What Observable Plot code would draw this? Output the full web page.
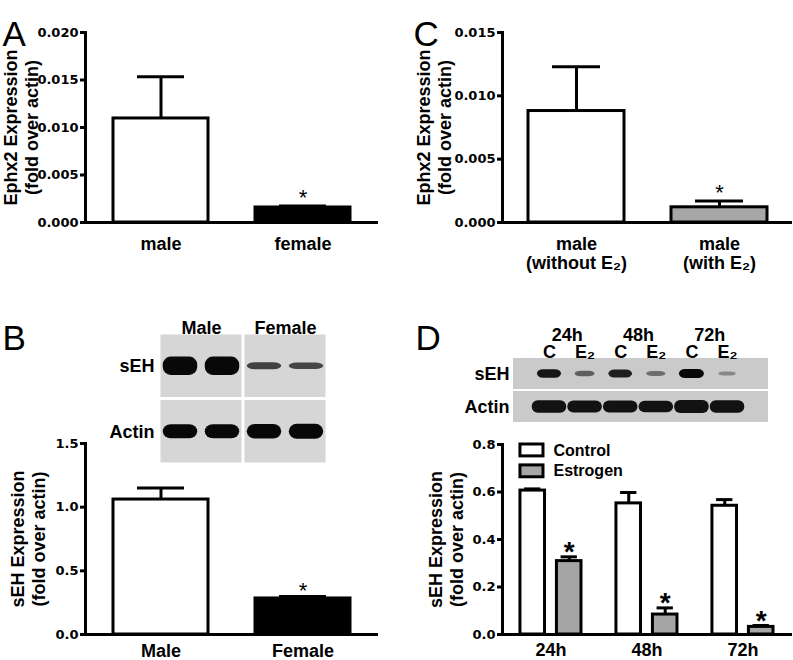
<!DOCTYPE html>
<html><head><meta charset="utf-8">
<script src="https://cdn.jsdelivr.net/npm/d3@7"></script>
<script src="https://cdn.jsdelivr.net/npm/@observablehq/plot@0.6"></script>
<style>
body{margin:0;background:#fff}
#fig{position:relative;width:793px;height:660px;background:#fff;overflow:hidden}
#fig svg{position:absolute}
</style></head><body><div id="fig"></div>
<script>
// ---------- Panel A ----------
const aCategories = ["male", "female"];
const aValues = [0.01095, 0.00158];
const aErrors = [0.0044, 0.00015];
const aTicks = [0, 0.005, 0.010, 0.015, 0.020];
// ---------- Panel C ----------
const cCategories = ["male\n(without E₂)", "male\n(with E₂)"];
const cValues = [0.0088, 0.0012];
const cErrors = [0.0035, 0.0005];
const cTicks = [0, 0.005, 0.010, 0.015];
// ---------- Panel B ----------
const bCategories = ["Male", "Female"];
const bValues = [1.06, 0.283];
const bErrors = [0.09, 0.015];
const bTicks = [0, 0.5, 1.0, 1.5];
const bBlotGroups = ["Male", "Female"];
const bBlotRows = ["sEH", "Actin"];
const bSehDensity = [1.0, 1.0, 0.28, 0.25];
const bActinDensity = [0.78, 0.78, 0.8, 0.82];
// ---------- Panel D ----------
const dTimes = ["24h", "48h", "72h"];
const dSeries = ["Control", "Estrogen"];
const dControl = [0.606, 0.552, 0.542];
const dControlErr = [0.007, 0.046, 0.026];
const dEstrogen = [0.309, 0.084, 0.032];
const dEstrogenErr = [0.018, 0.028, 0.006];
const dTicks = [0, 0.2, 0.4, 0.6, 0.8];
const dLaneLabels = ["C", "E₂", "C", "E₂", "C", "E₂"];
const dBlotRows = ["sEH", "Actin"];
const dSehDensity = [0.9, 0.4, 0.85, 0.3, 1.0, 0.12];
const dActinDensity = [0.95, 0.9, 0.9, 0.88, 1.0, 0.95];

const LAB = "'Liberation Sans', Arial, Helvetica, sans-serif";
const TICKF = "'DejaVu Sans', sans-serif";
const GRAY = "#a6a6a6";
const fig = document.getElementById("fig");
function place(svg, left, top) {
  svg.style.left = left + "px"; svg.style.top = top + "px";
  d3.select(svg).selectAll('g[aria-label="y-axis tick"]').attr("stroke-width", 3);
  fig.appendChild(svg); return svg;
}
const baseStyle = {background: "transparent", overflow: "visible", fontFamily: LAB, color: "black"};

function addBlotFilters(svg, id, sd) {
  const s = d3.select(svg);
  const defs = s.insert("defs", ":first-child");
  defs.append("filter").attr("id", "blur" + id)
    .attr("x", "-10%").attr("y", "-30%").attr("width", "120%").attr("height", "160%")
    .append("feGaussianBlur").attr("stdDeviation", sd);
  const n = defs.append("filter").attr("id", "noise" + id).attr("x", "0").attr("y", "0").attr("width", "100%").attr("height", "100%");
  n.append("feTurbulence").attr("type", "fractalNoise").attr("baseFrequency", "0.45").attr("numOctaves", 2).attr("seed", 4).attr("result", "n");
  n.append("feColorMatrix").attr("in", "n").attr("type", "matrix")
    .attr("values", "0 0 0 0 0  0 0 0 0 0  0 0 0 0 0  0 0 0 0.5 -0.2").attr("result", "a");
  n.append("feComposite").attr("in", "a").attr("in2", "SourceGraphic").attr("operator", "in").attr("result", "b");
  const m = n.append("feMerge");
  m.append("feMergeNode").attr("in", "SourceGraphic");
  m.append("feMergeNode").attr("in", "b");
  s.selectAll('g[aria-label="bands"]').attr("filter", `url(#blur${id})`);
  s.selectAll('g[aria-label="membrane"]').attr("filter", `url(#noise${id})`);
}

function barPanel(o) {
  const data = o.cats.map((c, i) => ({cat: c, v: o.vals[i], e: o.errs[i], fill: o.fills[i]}));
  return Plot.plot({
    width: o.width, height: o.height,
    marginLeft: o.ml, marginRight: o.mr, marginTop: o.mt, marginBottom: o.mb,
    style: baseStyle,
    x: {domain: o.cats, paddingInner: 0.33, paddingOuter: o.po, axis: null},
    y: {domain: [0, o.ticks[o.ticks.length - 1]]},
    marks: [
      Plot.ruleX(data, {x: "cat", y1: "v", y2: d => d.v + d.e, strokeWidth: 3}),
      Plot.tickY(data, {x: "cat", y: d => d.v + d.e, strokeWidth: 3, inset: 24}),
      Plot.barY(data, {x: "cat", y: "v", fill: d => d.fill, stroke: "black", strokeWidth: 3}),
      Plot.text([data[1]], {x: "cat", y: d => d.v + d.e, text: () => "*", fontSize: 22, fontWeight: "normal", dy: o.starDy}),
      Plot.ruleY([0], {strokeWidth: 3}),
      Plot.frame({anchor: "left", strokeWidth: 3}),
      Plot.axisY({ticks: o.ticks, tickFormat: o.fmt, tickSize: 5, tickPadding: 2, strokeWidth: 3,
        fontFamily: TICKF, fontWeight: "bold", fontSize: 13, label: null}),
      Plot.text(data, {x: "cat", text: "cat", frameAnchor: "bottom", lineAnchor: "top", dy: o.labelDy,
        fontSize: 18, fontWeight: "bold", lineHeight: 1.1}),
      Plot.text([o.title], {frameAnchor: "left", textAnchor: "middle", lineAnchor: "middle", rotate: -90, dx: o.titleDx,
        fontSize: 18, fontWeight: "bold", lineHeight: 1.2}),
      Plot.text([o.letter], {frameAnchor: "top-left", textAnchor: "start", lineAnchor: "bottom", dx: o.letterDx, dy: o.letterDy,
        fontSize: 35, fontWeight: "normal"})
    ]
  });
}

// Panel A
place(barPanel({cats: aCategories, vals: aValues, errs: aErrors, ticks: aTicks, fmt: ".3f", fills: ["white", "black"],
  width: 390, height: 290, ml: 85, mr: 12, mt: 32, mb: 68, po: 0.19, starDy: -8, labelDy: 13,
  title: "Ephx2 Expression\n(fold over actin)", titleDx: -65, letter: "A", letterDx: -83, letterDy: 13}), 0, 0);

// Panel C
place(barPanel({cats: cCategories, vals: cValues, errs: cErrors, ticks: cTicks, fmt: ".3f", fills: ["white", GRAY],
  width: 403, height: 290, ml: 112, mr: 1, mt: 32, mb: 68, po: 0.175, starDy: -8, labelDy: 13,
  title: "Ephx2 Expression\n(fold over actin)", titleDx: -69, letter: "C", letterDx: -89, letterDy: 13}), 390, 0);

// Panel B
place(barPanel({cats: bCategories, vals: bValues, errs: bErrors, ticks: bTicks, fmt: ".1f", fills: ["white", "black"],
  width: 390, height: 360, ml: 85, mr: 12, mt: 143, mb: 26, po: 0.19, starDy: -6, labelDy: 8.5,
  title: "sEH Expression\n(fold over actin)", titleDx: -58, letter: "B", letterDx: -83, letterDy: -94}), 0, 300);

// Panel B blot
{
  const bg = [];
  bBlotGroups.forEach((g, gi) => bBlotRows.forEach((r, ri) => bg.push({gi, ri})));
  const bands = [
    ...bSehDensity.map((d, i) => ({lane: i, row: 0, d, th: 0.04 + 0.24 * d})),
    ...bActinDensity.map((d, i) => ({lane: i, row: 1, d, th: 0.03 + 0.24 * d}))
  ];
  const shade = d3.interpolateRgb("#d5d5d5", "#080808");
  const svg = Plot.plot({
    width: 240, height: 170, marginLeft: 59, marginRight: 13, marginTop: 33, marginBottom: 6,
    style: baseStyle,
    x: {domain: [0, 4], axis: null}, y: {domain: [0, 2], reverse: true, axis: null},
    marks: [
      Plot.rect(bg, {x1: d => 2 * d.gi, x2: d => 2 * d.gi + 2, y1: d => d.ri, y2: d => d.ri + 1, fill: "#d6d6d6", inset: 1.5, ariaLabel: "membrane"}),
      Plot.rect(bands, {x1: d => d.lane + 0.09, x2: d => d.lane + 0.91,
        y1: d => d.row + 0.5 - d.th / 2, y2: d => d.row + 0.5 + d.th / 2,
        fill: d => shade(Math.min(1, 0.55 + 0.6 * d.d)), rx: 8, ariaLabel: "bands"}),
      Plot.text(bBlotGroups, {x: (d, i) => 2 * i + 1, frameAnchor: "top", lineAnchor: "bottom", dy: 0, fontSize: 18, fontWeight: "bold"}),
      Plot.text(bBlotRows, {y: (d, i) => i + 0.5, frameAnchor: "left", textAnchor: "end", dx: -5, fontSize: 18, fontWeight: "bold"})
    ]
  });
  addBlotFilters(svg, "B", 2.4);
  place(svg, 100, 300);
}

// Panel D bars
{
  const OFF = 0.19, HALF = 0.128, CAP = 0.085;
  const data = [];
  dTimes.forEach((t, g) => {
    data.push({g, s: dSeries[0], v: dControl[g], e: dControlErr[g], fill: "white", off: -1});
    data.push({g, s: dSeries[1], v: dEstrogen[g], e: dEstrogenErr[g], fill: GRAY, off: 1});
  });
  const cx = d => d.g + d.off * OFF;
  const legend = dSeries.map((s, i) => ({s, i, fill: i === 0 ? "white" : GRAY}));
  const svg = Plot.plot({
    width: 403, height: 360, marginLeft: 112, marginRight: 1, marginTop: 144, marginBottom: 26,
    style: baseStyle,
    x: {domain: [-0.505, 2.516], axis: null},
    y: {domain: [0, 0.8]},
    marks: [
      Plot.ruleX(data, {x: cx, y1: "v", y2: d => d.v + d.e, strokeWidth: 3}),
      Plot.ruleY(data, {y: d => d.v + d.e, x1: d => cx(d) - CAP, x2: d => cx(d) + CAP, strokeWidth: 3}),
      Plot.rect(data, {x1: d => cx(d) - HALF, x2: d => cx(d) + HALF, y1: 0, y2: "v", fill: d => d.fill, stroke: "black", strokeWidth: 3}),
      Plot.text(data.filter(d => d.off === 1), {x: cx, y: d => d.v + d.e, text: () => "*", fontSize: 28, fontWeight: "bold", dy: -4.5}),
      Plot.ruleY([0], {strokeWidth: 3}),
      Plot.frame({anchor: "left", strokeWidth: 3}),
      Plot.axisY({ticks: dTicks, tickFormat: ".1f", tickSize: 5, tickPadding: 2, strokeWidth: 3,
        fontFamily: TICKF, fontWeight: "bold", fontSize: 13, label: null}),
      Plot.text(dTimes, {x: (d, i) => i, frameAnchor: "bottom", lineAnchor: "top", dy: 8.5, fontSize: 18, fontWeight: "bold"}),
      // legend
      Plot.rect(legend, {x1: -0.318, x2: -0.078, y1: d => 0.8 - d.i * 0.088, y2: d => 0.75 - d.i * 0.088,
        fill: d => d.fill, stroke: "black", strokeWidth: 3}),
      Plot.text(legend, {x: 0.026, y: d => 0.775 - d.i * 0.088, text: "s", textAnchor: "start", fontSize: 16, fontWeight: "bold"}),
      Plot.text(["sEH Expression\n(fold over actin)"], {frameAnchor: "left", textAnchor: "middle", lineAnchor: "middle", rotate: -90, dx: -57,
        fontSize: 18, fontWeight: "bold", lineHeight: 1.2}),
      Plot.text(["D"], {frameAnchor: "top-left", textAnchor: "start", lineAnchor: "bottom", dx: -87, dy: -95, fontSize: 35, fontWeight: "normal"})
    ]
  });
  place(svg, 390, 300);
}

// Panel D blot
{
  const xd = [-1.01, 6.15];
  const bands = [
    ...dSehDensity.map((d, i) => ({lane: i, row: 0, d, th: 0.1 + 0.17 * d, w: 0.46 + 0.24 * d, t: 0.25 + 0.75 * d})),
    ...dActinDensity.map((d, i) => ({lane: i, row: 1, d, th: 0.4 * d, w: 0.97, t: 0.95}))
  ];
  const shade = d3.interpolateRgb("#c9c9c9", "#080808");
  const svg = Plot.plot({
    width: 290, height: 130, marginLeft: 23, marginRight: 12, marginTop: 57, marginBottom: 7,
    style: baseStyle,
    x: {domain: xd, axis: null}, y: {domain: [0, 2], reverse: true, axis: null},
    marks: [
      Plot.rect(dBlotRows, {x1: () => xd[0], x2: () => xd[1], y1: (d, i) => i, y2: (d, i) => i + 1, fill: "#cacaca",
        insetTop: 1, insetBottom: 1, ariaLabel: "membrane"}),
      Plot.rect(bands, {x1: d => d.lane - d.w / 2, x2: d => d.lane + d.w / 2,
        y1: d => d.row + 0.5 - d.th / 2, y2: d => d.row + 0.5 + d.th / 2,
        fill: d => shade(d.t), rx: 6, ariaLabel: "bands"}),
      Plot.text(dTimes, {x: (d, i) => 2 * i + 0.5, frameAnchor: "top", lineAnchor: "bottom", dy: -17, fontSize: 18, fontWeight: "bold"}),
      Plot.text(dLaneLabels, {x: (d, i) => i, frameAnchor: "top", lineAnchor: "bottom", dy: 0, fontSize: 18, fontWeight: "bold"}),
      Plot.text(dBlotRows, {y: (d, i) => i + 0.5, frameAnchor: "left", textAnchor: "end", dx: -4, fontSize: 18, fontWeight: "bold"})
    ]
  });
  addBlotFilters(svg, "D", 1.5);
  place(svg, 490, 300);
}
</script></body></html>
